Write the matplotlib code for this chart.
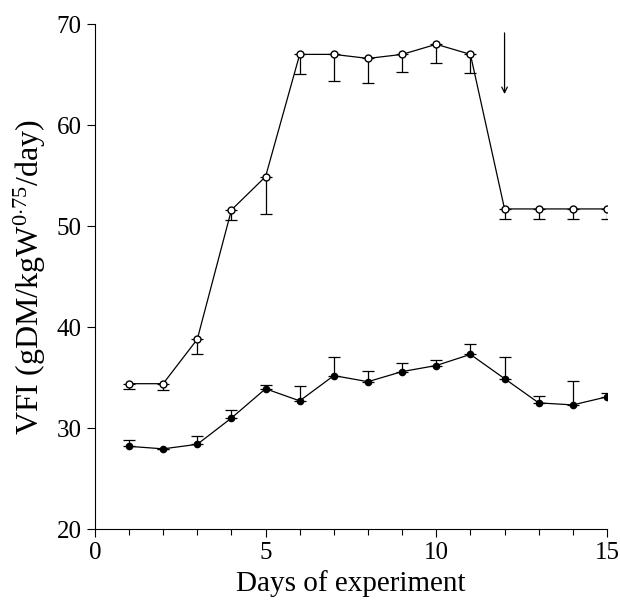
import matplotlib
matplotlib.use("Agg")
import matplotlib.pyplot as plt
import numpy as np

plt.rcParams['font.family'] = ['Liberation Serif', 'DejaVu Serif']
plt.rcParams['mathtext.fontset'] = 'custom'
plt.rcParams['mathtext.rm'] = 'Liberation Serif'
plt.rcParams['mathtext.it'] = 'Liberation Serif:italic'

days = np.arange(1, 16)
open_vals = [34.4, 34.4, 38.8, 51.6, 54.9, 67.0, 67.0, 66.6, 67.0, 68.0, 67.0, 51.7, 51.7, 51.7, 51.7]
open_err_low = [0.5, 0.6, 1.5, 1.0, 3.7, 1.9, 2.6, 2.4, 1.7, 1.9, 1.8, 0.95, 0.95, 0.95, 0.95]
filled_vals = [28.2, 27.95, 28.4, 31.0, 33.9, 32.7, 35.2, 34.6, 35.6, 36.2, 37.3, 34.9, 32.5, 32.3, 33.1]
filled_err_up = [0.6, 0.0, 0.8, 0.8, 0.4, 1.5, 1.8, 1.1, 0.8, 0.5, 1.0, 2.1, 0.7, 2.4, 0.35]

fig = plt.figure(figsize=(6.2, 6.02), dpi=100)
ax = fig.add_axes([0.153, 0.121, 0.826, 0.839])

zeros = np.zeros(len(days))
ax.errorbar(days, open_vals, yerr=[open_err_low, zeros], fmt='-o', color='black',
            mfc='white', mec='black', ms=5, lw=0.9, elinewidth=0.9, capsize=4, capthick=0.9)
ax.errorbar(days, filled_vals, yerr=[zeros, filled_err_up], fmt='-o', color='black',
            mfc='black', ms=4.5, lw=0.9, elinewidth=0.9, capsize=4, capthick=0.9)

# arrow marking day 12
ax.annotate('', xy=(12, 62.8), xytext=(12, 69.4),
            arrowprops=dict(arrowstyle='->', color='black', lw=0.9))

ax.set_xlim(0, 15)
ax.set_ylim(20, 70)
ax.set_xticks([0, 5, 10, 15])
ax.set_xticks(days, minor=True)
ax.set_yticks([20, 30, 40, 50, 60, 70])
ax.spines['top'].set_visible(False)
ax.spines['right'].set_visible(False)
ax.tick_params(axis='both', which='major', direction='out', length=6, labelsize=18, width=0.8)
ax.tick_params(axis='x', which='minor', direction='out', length=4, width=0.8)
ax.set_xlabel('Days of experiment', fontsize=21, labelpad=4)
ax.set_ylabel('VFI (gDM/kgW$^{0{\\cdot}75}$/day)', fontsize=23, labelpad=6)

fig.savefig('out.png', dpi=100)
